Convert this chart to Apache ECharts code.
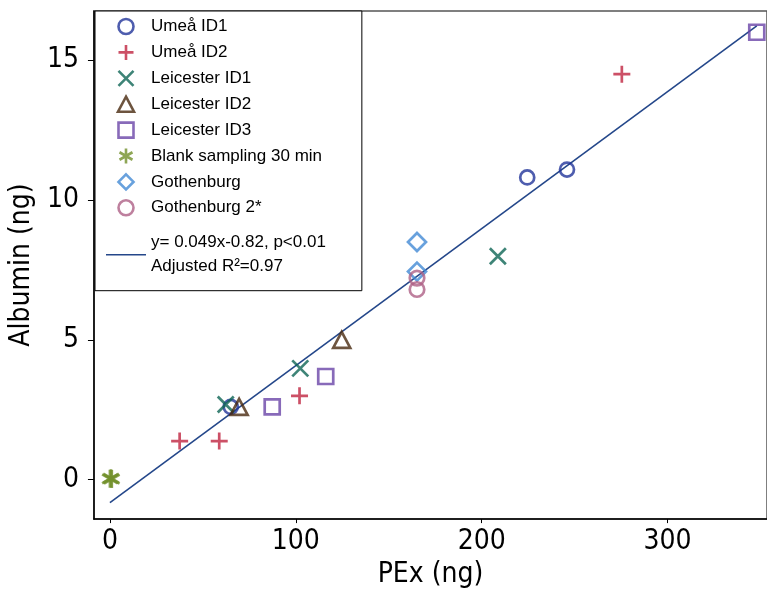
<!DOCTYPE html>
<html>
<head>
<meta charset="utf-8">
<script src="https://cdn.jsdelivr.net/npm/echarts@6/dist/echarts.min.js"></script>
<style>
html,body{margin:0;padding:0;background:#fff;}
#chart{width:767px;height:594px;}
</style>
</head>
<body>
<div id="chart"></div>
<script>
// ---- data ----
var seriesNames = ['Umeå ID1','Umeå ID2','Leicester ID1','Leicester ID2','Leicester ID3','Blank sampling 30 min','Gothenburg','Gothenburg 2*'];
var umeaID1 = [[224.5,10.81],[245.9,11.09],[65,2.6]];
var umeaID2 = [[37.5,1.38],[58.8,1.38],[102,3.0],[275.4,14.5]];
var leicID1 = [[62.3,2.69],[102.4,3.98],[208.7,7.99]];
var leicID2 = [[69.5,2.6],[124.7,5.0]];
var leicID3 = [[87.3,2.6],[116.1,3.69],[348,16.0]];
var blank = [[0,0.03],[0.6,0.05],[1.0,0.02]];
var goth = [[165.2,8.5],[165.2,7.44]];
var goth2 = [[165.2,7.21],[165.2,6.8]];
var fitX = [0, 348];
var fitY = [-0.82, 16.23];
var fitLabel = ['y= 0.049x-0.82, p<0.01','Adjusted R²=0.97'];
var xTicks = [0,100,200,300];
var yTicks = [0,5,10,15];

var NARROW = "'Liberation Sans Narrow','DejaVu Sans Condensed','Liberation Sans',Arial,sans-serif";
var colors = ['#22349a','#bf2440','#0e6555','#48290f','#6a45a8','#72902a','#4289d4','#ae6086'];
var FITCOLOR = '#24478a';
var CIRCLE = 'path://M5,0A5,5,0,1,1,5,10A5,5,0,1,1,5,0Z';
var PLUS = 'path://M5,0L5,10M0,5L10,5';
var CROSS = 'path://M0,0L10,10M10,0L0,10';
var TRI = 'path://M5,0L10,9.4L0,9.4Z';
var SQUARE = 'path://M0,0L10,0L10,10L0,10Z';
var STAR = 'path://M5,0L5,10M0.67,2.5L9.33,7.5M9.33,2.5L0.67,7.5';
var DIAMOND = 'path://M5,0L10,5L5,10L0,5Z';
var LINEICON = 'path://M0,0L40,0L40,1.6L0,1.6Z';
var symbols = [CIRCLE, PLUS, CROSS, TRI, SQUARE, STAR, DIAMOND, CIRCLE];
var sizes = [14, 17, 16, 17, 15, 18, 18, 14.5];
var allData = [umeaID1, umeaID2, leicID1, leicID2, leicID3, blank, goth, goth2];

var series = seriesNames.map(function(n,i){
  return {
    name: n, type: 'scatter', data: allData[i],
    symbol: symbols[i], symbolSize: sizes[i], symbolKeepAspect: true,
    itemStyle: {color: 'rgba(0,0,0,0)', borderColor: colors[i], borderWidth: 2.7},
    emphasis: {disabled: true}, z: 3
  };
});
series.push({
  name: 'fit', type: 'line', data: fitX.map(function(x,i){return [x, fitY[i]];}),
  symbol: 'none', showSymbol: false, lineStyle: {color: FITCOLOR, width: 1.6}, itemStyle:{color: FITCOLOR},
  emphasis: {disabled: true}, z: 2
});

var legendData = seriesNames.map(function(n,i){
  return {name: n, icon: symbols[i], itemStyle: {color: 'rgba(0,0,0,0)', borderColor: colors[i], borderWidth: 2.6}};
});
legendData.push({name: 'fit', icon: LINEICON, itemStyle:{color: FITCOLOR, borderWidth: 0}});

var chart = echarts.init(document.getElementById('chart'), null, {renderer: 'canvas'});
chart.setOption({
  animation: false,
  grid: {left: 91, right: -2, top: 11, bottom: 66, show: true, borderColor: '#555', borderWidth: 1.5, backgroundColor: 'rgba(0,0,0,0)'},
  xAxis: {
    type: 'value', min: -8.6, max: 353.5,
    name: 'PEx (ng)', nameLocation: 'middle', nameGap: 37,
    nameTextStyle: {fontFamily: NARROW, fontSize: 28, color: '#000'},
    axisLine: {show: true, onZero: false, lineStyle: {color: '#000', width: 1.5}},
    axisTick: {show: true, length: 4, customValues: xTicks, lineStyle: {color: '#000', width: 1}},
    axisLabel: {customValues: xTicks, margin: 9, fontFamily: NARROW, fontSize: 28, color: '#000'},
    splitLine: {show: false}
  },
  yAxis: {
    type: 'value', min: -1.41, max: 16.76,
    name: 'Albumin (ng)', nameLocation: 'middle', nameGap: 53, nameRotate: 90,
    nameTextStyle: {fontFamily: NARROW, fontSize: 28, color: '#000'},
    axisLine: {show: true, onZero: false, lineStyle: {color: '#000', width: 1.5}},
    axisTick: {show: true, length: 6, customValues: yTicks, lineStyle: {color: '#000', width: 1}},
    axisLabel: {customValues: yTicks, margin: 15, fontFamily: NARROW, fontSize: 28, color: '#000'},
    splitLine: {show: false}
  },
  legend: {
    orient: 'vertical', left: 95, top: 11,
    padding: [3.5, 36, 3, 11],
    itemWidth: 40, itemHeight: 15, itemGap: 1.9,
    symbolKeepAspect: true,
    backgroundColor: '#fff', borderColor: '#000', borderWidth: 1,
    textStyle: {fontFamily: 'Liberation Sans', fontSize: 17, lineHeight: 24, color: '#000',
      rich: {
        a: {fontFamily: 'Liberation Sans', fontSize: 17, lineHeight: 24, color: '#000'},
        sp: {fontSize: 6, lineHeight: 9}
      }
    },
    itemTextGap: 8,
    selectedMode: false,
    data: legendData,
    formatter: function(name){
      if (name === 'fit') return '{sp| }\n{a|' + fitLabel[0] + '}\n{a|' + fitLabel[1] + '}\n{sp| }';
      return name;
    }
  },
  series: series
});
</script>
</body>
</html>
